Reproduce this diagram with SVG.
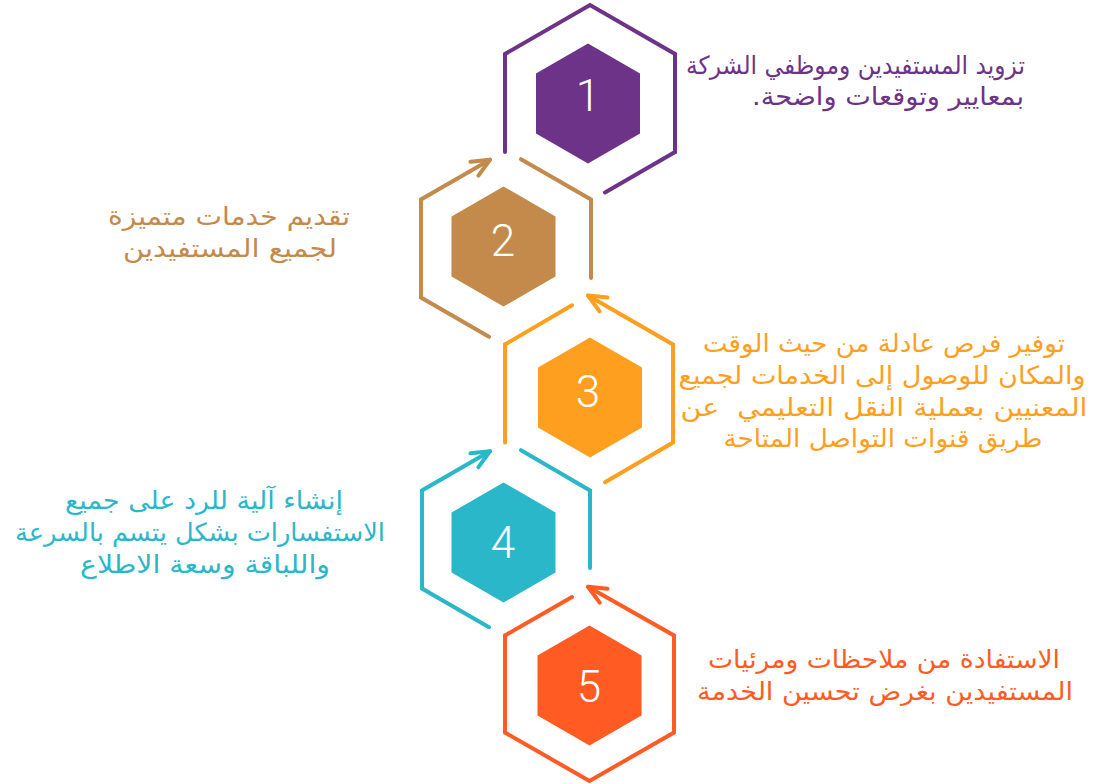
<svg xmlns="http://www.w3.org/2000/svg" width="1094" height="784" viewBox="0 0 1094 784">
<style>
.ln{fill:none;stroke-width:4;stroke-linecap:round;stroke-linejoin:miter}
.num{font-family:Roboto,"DejaVu Sans",sans-serif;font-weight:300;font-size:44px;fill:#ffffff;text-anchor:middle}
.ar{font-family:"DejaVu Sans",sans-serif;font-size:25px;direction:rtl}
.c{text-anchor:middle}
.s{text-anchor:start}
</style>
<defs>
<marker id="a2" markerUnits="userSpaceOnUse" markerWidth="40" markerHeight="40" refX="0" refY="0" orient="auto" overflow="visible"><path d="M-18,-8 L0,0 L-18,8" fill="none" stroke="#C48A4B" stroke-width="4" stroke-linecap="round" stroke-linejoin="round"/></marker>
<marker id="a3" markerUnits="userSpaceOnUse" markerWidth="40" markerHeight="40" refX="0" refY="0" orient="auto" overflow="visible"><path d="M-18,-8 L0,0 L-18,8" fill="none" stroke="#FF9F1F" stroke-width="4" stroke-linecap="round" stroke-linejoin="round"/></marker>
<marker id="a4" markerUnits="userSpaceOnUse" markerWidth="40" markerHeight="40" refX="0" refY="0" orient="auto" overflow="visible"><path d="M-18,-8 L0,0 L-18,8" fill="none" stroke="#2AB7C9" stroke-width="4" stroke-linecap="round" stroke-linejoin="round"/></marker>
<marker id="a5" markerUnits="userSpaceOnUse" markerWidth="40" markerHeight="40" refX="0" refY="0" orient="auto" overflow="visible"><path d="M-18,-8 L0,0 L-18,8" fill="none" stroke="#FF5B23" stroke-width="4" stroke-linecap="round" stroke-linejoin="round"/></marker>
</defs>
<rect width="1094" height="784" fill="#ffffff"/>
<g id="connectors">
<path class="ln" stroke="#6C3388" d="M505,152 L505,54 L590,5 L675,54 L675,152 L605,192.4"/>
<path class="ln" stroke="#C48A4B" d="M489,336.8 L421,297.5 L421,199.5 L490,159.7" marker-end="url(#a2)"/>
<path class="ln" stroke="#C48A4B" d="M521,159.2 L591,199.5 L591,278"/>
<path class="ln" stroke="#FF9F1F" d="M572,305.3 L505,344.5 L505,442.5"/>
<path class="ln" stroke="#FF9F1F" d="M605,482.3 L673,442.5 L673,344.5 L588,295.5" marker-end="url(#a3)"/>
<path class="ln" stroke="#2AB7C9" d="M489,627.2 L422,588.5 L422,490.5 L490,451.2" marker-end="url(#a4)"/>
<path class="ln" stroke="#2AB7C9" d="M521,450.2 L590,490.5 L590,568"/>
<path class="ln" stroke="#FF5B23" d="M572,597.1 L505,635.5 L505,732.5 L589.5,781 L674,732.5 L674,635.5 L588,586.8" marker-end="url(#a5)"/>
</g>
<g id="node1">
<polygon fill="#6C3388" points="588,43.5 640,73.5 640,133.5 588,163.5 536,133.5 536,73.5"/>
<text class="num" x="588" y="111">1</text>
<text class="ar s" fill="#6C3388" x="1025" y="74" textLength="339" lengthAdjust="spacingAndGlyphs">تزويد المستفيدين وموظفي الشركة</text>
<text class="ar s" fill="#6C3388" x="1024" y="105" textLength="272" lengthAdjust="spacingAndGlyphs">بمعايير وتوقعات واضحة.</text>
</g>
<g id="node2">
<polygon fill="#C48A4B" points="503.5,186.5 555.5,216.5 555.5,276.5 503.5,306.5 451.5,276.5 451.5,216.5"/>
<text class="num" x="503" y="256">2</text>
<text class="ar c" fill="#C48A4B" x="229" y="225" textLength="242" lengthAdjust="spacingAndGlyphs">تقديم خدمات متميزة</text>
<text class="ar c" fill="#C48A4B" x="230" y="257" textLength="214" lengthAdjust="spacingAndGlyphs">لجميع المستفيدين</text>
</g>
<g id="node3">
<polygon fill="#FF9F1F" points="590,337.5 642,367.5 642,427.5 590,457.5 538,427.5 538,367.5"/>
<text class="num" x="588" y="407">3</text>
<text class="ar c" fill="#FF9F1F" x="884" y="352" textLength="362" lengthAdjust="spacingAndGlyphs">توفير فرص عادلة من حيث الوقت</text>
<text class="ar c" fill="#FF9F1F" x="882" y="384" textLength="407" lengthAdjust="spacingAndGlyphs">والمكان للوصول إلى الخدمات لجميع</text>
<text class="ar c" fill="#FF9F1F" x="884" y="416" style="white-space:pre" textLength="407" lengthAdjust="spacingAndGlyphs">المعنيين بعملية النقل التعليمي  عن</text>
<text class="ar c" fill="#FF9F1F" x="883" y="447" textLength="319" lengthAdjust="spacingAndGlyphs">طريق قنوات التواصل المتاحة</text>
</g>
<g id="node4">
<polygon fill="#2AB7C9" points="503.5,482.5 555.5,512.5 555.5,572.5 503.5,602.5 451.5,572.5 451.5,512.5"/>
<text class="num" x="503" y="558">4</text>
<text class="ar c" fill="#2AB7C9" x="204" y="509" textLength="278" lengthAdjust="spacingAndGlyphs">إنشاء آلية للرد على جميع</text>
<text class="ar c" fill="#2AB7C9" x="200" y="541" textLength="370" lengthAdjust="spacingAndGlyphs">الاستفسارات بشكل يتسم بالسرعة</text>
<text class="ar c" fill="#2AB7C9" x="205" y="573" textLength="250" lengthAdjust="spacingAndGlyphs">واللباقة وسعة الاطلاع</text>
</g>
<g id="node5">
<polygon fill="#FF5B23" points="589.5,625.5 641.5,655.5 641.5,715.5 589.5,745.5 537.5,715.5 537.5,655.5"/>
<text class="num" x="589" y="702">5</text>
<text class="ar c" fill="#FF5B23" x="884" y="668" textLength="352" lengthAdjust="spacingAndGlyphs">الاستفادة من ملاحظات ومرئيات</text>
<text class="ar c" fill="#FF5B23" x="885" y="700" textLength="376" lengthAdjust="spacingAndGlyphs">المستفيدين بغرض تحسين الخدمة</text>
</g>
</svg>
